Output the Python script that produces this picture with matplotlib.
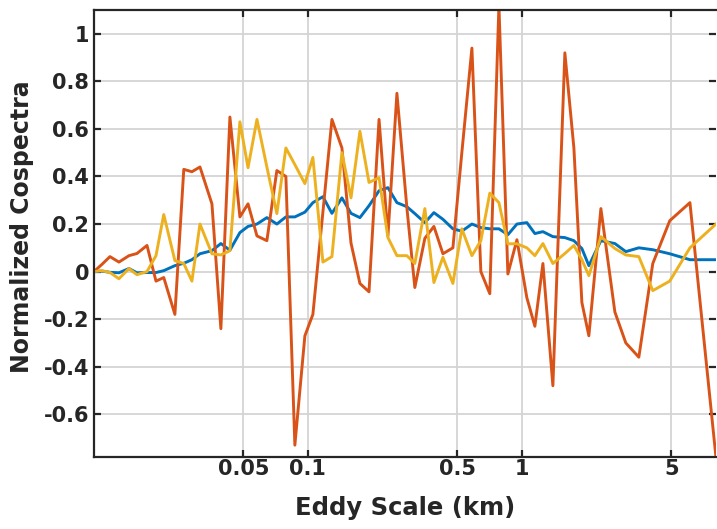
import matplotlib
matplotlib.use("Agg")
import matplotlib.pyplot as plt
from matplotlib.ticker import FixedLocator, FuncFormatter, NullLocator

# eddy scale (km), shared by the three spectra
scale_km = [
    0.0100, 0.01089, 0.01188, 0.01309, 0.01458, 0.01588, 0.0177, 0.0195, 0.0212,
    0.0239, 0.0263, 0.0287, 0.0313, 0.0356, 0.0392, 0.0432, 0.0481, 0.0525,
    0.0578, 0.0643, 0.0716, 0.0789, 0.0869, 0.0968, 0.1055, 0.1175, 0.1295,
    0.1442, 0.159, 0.175, 0.193, 0.215, 0.2366, 0.2606, 0.290, 0.316, 0.352,
    0.388, 0.4275, 0.476, 0.524, 0.584, 0.643, 0.708, 0.781, 0.860, 0.948,
    1.055, 1.15, 1.254, 1.396, 1.588, 1.75, 1.907, 2.056, 2.34, 2.72, 3.06,
    3.52, 4.09, 4.91, 6.10, 8.07,
]

cosp_blue = [
    0, 0.002, -0.003, -0.005, 0.013, -0.005, -0.004, -0.004, 0.004,
    0.025, 0.035, 0.05, 0.075, 0.088, 0.118, 0.09, 0.164, 0.19,
    0.2, 0.227, 0.2, 0.23, 0.23, 0.25, 0.29, 0.315, 0.245,
    0.31, 0.245, 0.227, 0.277, 0.34, 0.353, 0.29, 0.273, 0.244, 0.206,
    0.248, 0.22, 0.18, 0.17, 0.2, 0.185, 0.18, 0.18, 0.155, 0.2,
    0.206, 0.16, 0.168, 0.147, 0.143, 0.13, 0.097, 0.025, 0.13, 0.118, 0.084,
    0.1, 0.092, 0.075, 0.05, 0.05,
]

cosp_orange = [
    0, 0.03, 0.063, 0.04, 0.067, 0.076, 0.11, -0.04, -0.025,
    -0.18, 0.43, 0.42, 0.44, 0.285, -0.24, 0.65, 0.23, 0.285,
    0.15, 0.13, 0.425, 0.40, -0.73, -0.27, -0.18, 0.25, 0.64,
    0.52, 0.12, -0.05, -0.085, 0.64, 0.15, 0.75, 0.27, -0.067, 0.14,
    0.19, 0.075, 0.10, 0.5, 0.94, 0.0, -0.093, 1.12, -0.01, 0.134,
    -0.11, -0.23, 0.034, -0.48, 0.92, 0.52, -0.13, -0.27, 0.265, -0.17, -0.30,
    -0.36, 0.034, 0.214, 0.29, -0.78,
]

cosp_yellow = [
    0, 0.004, -0.004, -0.03, 0.013, -0.013, 0.0, 0.067, 0.24,
    0.046, 0.034, -0.04, 0.2, 0.075, 0.07, 0.088, 0.63, 0.437,
    0.64, 0.44, 0.244, 0.52, 0.45, 0.37, 0.48, 0.04, 0.063,
    0.5, 0.31, 0.59, 0.375, 0.395, 0.143, 0.067, 0.067, 0.034, 0.265,
    -0.046, 0.06, -0.05, 0.18, 0.067, 0.13, 0.33, 0.29, 0.117, 0.117,
    0.1, 0.067, 0.118, 0.034, 0.076, 0.11, 0.05, -0.017, 0.147, 0.097, 0.07,
    0.063, -0.08, -0.04, 0.1, 0.2,
]

x_ticks = [0.05, 0.1, 0.5, 1, 5]
y_ticks = [-0.6, -0.4, -0.2, 0, 0.2, 0.4, 0.6, 0.8, 1]

plt.rcParams["font.family"] = ["DejaVu Sans"]
plt.rcParams["font.weight"] = "bold"

fig = plt.figure(figsize=(7.17, 5.29), dpi=100)
ax = fig.add_axes([0.131, 0.136, 0.868, 0.845])

lw = 2.1
ax.plot(scale_km, cosp_blue, color="#0072BD", linewidth=lw)
ax.plot(scale_km, cosp_orange, color="#D95319", linewidth=lw)
ax.plot(scale_km, cosp_yellow, color="#EDB120", linewidth=lw)

ax.set_xscale("log")
ax.set_xlim(0.01, 8.1)
ax.set_ylim(-0.78, 1.1)

ax.xaxis.set_major_locator(FixedLocator(x_ticks))
ax.xaxis.set_minor_locator(NullLocator())
ax.xaxis.set_major_formatter(FuncFormatter(lambda v, p: f"{v:g}"))
ax.yaxis.set_major_locator(FixedLocator(y_ticks))
ax.yaxis.set_major_formatter(FuncFormatter(lambda v, p: f"{v:g}"))

ax.grid(True, color="#d4d4d4", linewidth=1.3)
ax.set_axisbelow(True)

for side in ["left", "bottom", "top"]:
    ax.spines[side].set_color("#262626")
    ax.spines[side].set_linewidth(1.6)
ax.spines["right"].set_visible(False)

ax.tick_params(direction="in", length=5, width=1.6, color="#262626",
               top=True, right=True, labelsize=15, labelcolor="#262626")
ax.tick_params(axis="x", pad=1.5)
for lab in ax.get_xticklabels() + ax.get_yticklabels():
    lab.set_fontweight("bold")

ax.set_xlabel("Eddy Scale (km)", fontsize=17.5, fontweight="bold",
              color="#262626", labelpad=12)
ax.set_ylabel("Normalized Cospectra", fontsize=17, fontweight="bold",
              color="#262626")
ax.yaxis.set_label_coords(-0.097, 0.515)

fig.savefig("out.png", dpi=100)
plt.close(fig)
